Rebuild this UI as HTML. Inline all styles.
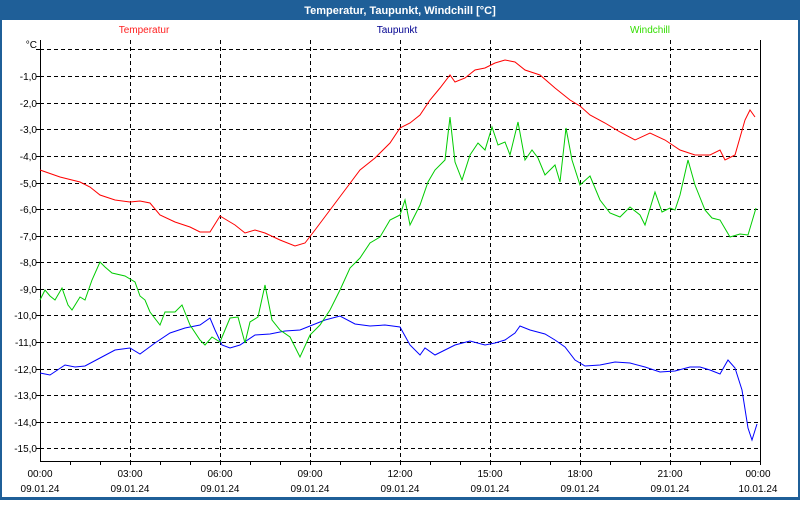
<!DOCTYPE html>
<html><head><meta charset="utf-8"><style>
body{margin:0;width:800px;height:500px;overflow:hidden;background:#fff;font-family:"Liberation Sans",sans-serif}
</style></head><body>
<svg width="800" height="500" xmlns="http://www.w3.org/2000/svg" font-family="Liberation Sans, sans-serif">
<rect x="0" y="0" width="800" height="500" fill="#1f5f98"/>
<rect x="2" y="20" width="796" height="477" fill="#fff"/>
<text x="400" y="14" fill="#fff" font-size="11" font-weight="bold" text-anchor="middle">Temperatur, Taupunkt, Windchill [°C]</text>
<text x="144" y="33" fill="#ff2020" font-size="10" text-anchor="middle">Temperatur</text>
<text x="397" y="33" fill="#000090" font-size="10" text-anchor="middle">Taupunkt</text>
<text x="650" y="33" fill="#33dd00" font-size="10" text-anchor="middle">Windchill</text>
<g stroke="#000" stroke-dasharray="4,3" stroke-width="1">
<path d="M40 49.5H760M40 76.5H760M40 103.5H760M40 129.5H760M40 156.5H760M40 183.5H760M40 209.5H760M40 236.5H760M40 262.5H760M40 289.5H760M40 315.5H760M40 342.5H760M40 369.5H760M40 395.5H760M40 422.5H760M40 448.5H760"/>
<path d="M130.5 40V461M220.5 40V461M310.5 40V461M400.5 40V461M490.5 40V461M580.5 40V461M670.5 40V461"/>
</g>
<path d="M40.5 40V461.5H760.5V40" stroke="#000" fill="none"/>
<g stroke="#000"><path d="M70.5 461v4M100.5 461v4M130.5 461v4M160.5 461v4M190.5 461v4M220.5 461v4M250.5 461v4M280.5 461v4M310.5 461v4M340.5 461v4M370.5 461v4M400.5 461v4M430.5 461v4M460.5 461v4M490.5 461v4M520.5 461v4M550.5 461v4M580.5 461v4M610.5 461v4M640.5 461v4M670.5 461v4M700.5 461v4M730.5 461v4M760.5 461v4M36 49.5h4M36 76.5h4M36 103.5h4M36 129.5h4M36 156.5h4M36 183.5h4M36 209.5h4M36 236.5h4M36 262.5h4M36 289.5h4M36 315.5h4M36 342.5h4M36 369.5h4M36 395.5h4M36 422.5h4M36 448.5h4"/></g>
<g font-size="10" fill="#000" text-anchor="end">
<text x="37" y="48">°C</text>
<text x="37" y="80">-1,0</text><text x="37" y="107">-2,0</text><text x="37" y="133">-3,0</text><text x="37" y="160">-4,0</text><text x="37" y="187">-5,0</text><text x="37" y="213">-6,0</text><text x="37" y="240">-7,0</text><text x="37" y="266">-8,0</text><text x="37" y="293">-9,0</text><text x="37" y="319">-10,0</text><text x="37" y="346">-11,0</text><text x="37" y="373">-12,0</text><text x="37" y="399">-13,0</text><text x="37" y="426">-14,0</text><text x="37" y="452">-15,0</text>
</g>
<g font-size="10" fill="#000" text-anchor="middle">
<text x="40" y="477">00:00</text><text x="40" y="492">09.01.24</text>
<text x="130" y="477">03:00</text><text x="130" y="492">09.01.24</text>
<text x="220" y="477">06:00</text><text x="220" y="492">09.01.24</text>
<text x="310" y="477">09:00</text><text x="310" y="492">09.01.24</text>
<text x="400" y="477">12:00</text><text x="400" y="492">09.01.24</text>
<text x="490" y="477">15:00</text><text x="490" y="492">09.01.24</text>
<text x="580" y="477">18:00</text><text x="580" y="492">09.01.24</text>
<text x="670" y="477">21:00</text><text x="670" y="492">09.01.24</text>
<text x="758" y="477">00:00</text><text x="758" y="492">10.01.24</text>
</g>
<g fill="none" stroke-width="1">
<polyline stroke="#ff0000" points="40,170 60,177 80,182 90,187 100,195 115,200 130,202 140,201 150,203 160,215 175,222 190,227 200,232 210,232 220,216 235,225 245,233 255,230 265,233 280,240 295,246 305,243 315,230 330,210 345,190 360,170 375,158 390,143 400,128 410,123 420,115 430,100 440,88 450,75 455,82 465,78 475,70 485,68 495,63 505,60 515,62 525,70 540,75 555,88 570,100 580,106 590,115 605,123 620,132 635,140 650,133 665,140 680,150 695,155 710,155 720,150 725,160 735,155 745,120 750,110 755,117"/>
<polyline stroke="#0000ff" points="40,373 50,375 65,365 75,367 85,366 100,358 115,350 130,348 140,354 155,343 170,333 185,328 200,325 210,318 215,330 222,345 230,348 240,345 255,335 270,334 285,331 300,330 310,326 325,320 340,316 355,324 370,326 385,325 400,327 410,345 420,355 425,348 435,355 445,350 455,345 470,341 485,345 495,343 505,340 515,333 520,326 530,330 545,334 555,340 565,347 575,360 585,366 600,365 615,362 630,363 645,367 660,372 675,371 690,367 700,367 710,370 720,374 728,360 735,368 742,390 748,428 752,440 757,424"/>
<polyline stroke="#00cc00" points="40,300 45,290 50,296 55,300 62,288 68,305 72,310 80,297 85,300 92,280 100,262 105,267 112,273 125,276 135,282 140,296 145,300 150,312 160,325 165,312 175,312 182,305 190,325 200,340 205,345 212,337 220,342 230,318 238,317 245,343 250,322 258,317 265,285 272,320 280,330 290,337 300,357 310,335 320,325 330,310 340,290 350,268 360,258 370,243 380,237 390,220 400,215 405,200 410,225 420,205 428,182 435,170 445,160 450,117 455,162 462,180 470,155 478,143 485,150 492,127 498,145 505,142 510,155 518,122 525,160 532,150 538,158 545,175 555,165 560,182 566,128 572,160 580,185 590,176 600,200 610,213 620,217 630,207 640,215 645,225 655,192 662,212 670,208 675,210 680,195 688,160 695,185 705,210 712,218 720,220 730,237 740,234 748,235 756,208"/>
</g>
</svg>
</body></html>
